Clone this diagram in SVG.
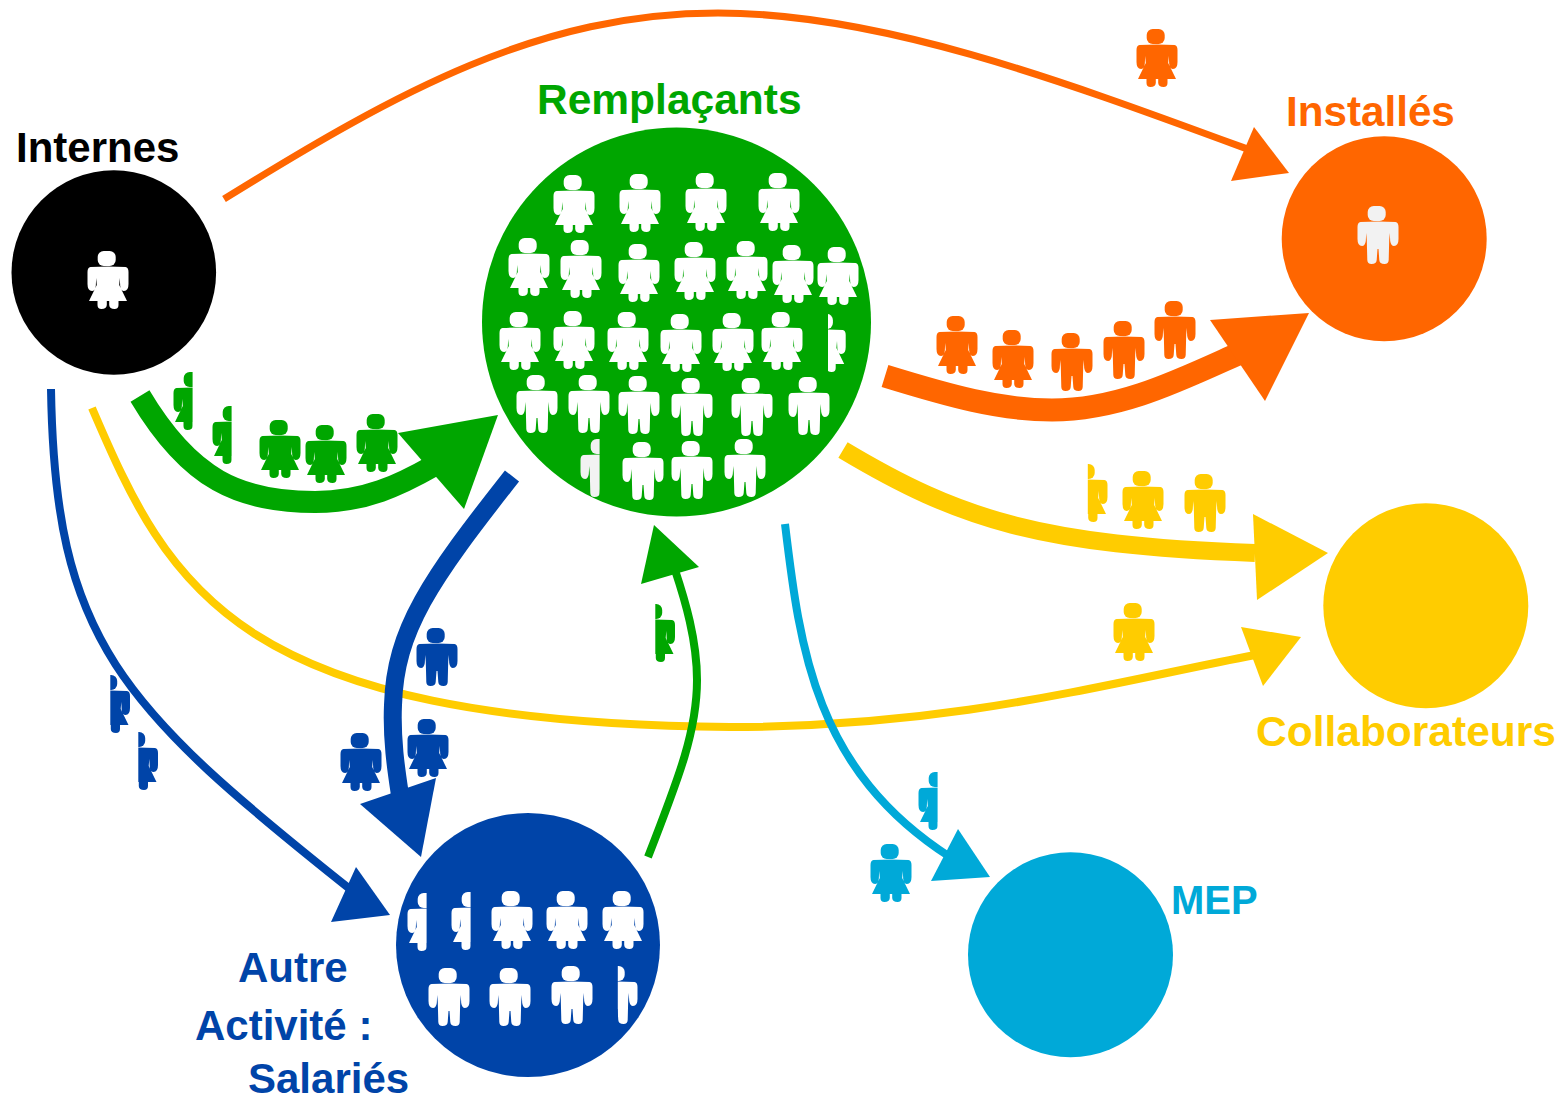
<svg xmlns="http://www.w3.org/2000/svg" width="1565" height="1102" viewBox="0 0 1565 1102">
<style>
text{font-family:"Liberation Sans",Arial,sans-serif;font-weight:700;font-size:42px}
.l{fill:none}
.g{fill:#00a600}.o{fill:#ff6600}.y{fill:#ffcc00}.b{fill:#0044a8}.c{fill:#00a9d8}.k{fill:#000}.w{fill:#fff}.s{fill:#f2f2f2}
</style>
<defs>
<clipPath id="cl"><rect x="-30" y="-2" width="28.6" height="64"/></clipPath>
<clipPath id="cr"><rect x="0.800" y="-2" width="28" height="64"/></clipPath>
<clipPath id="cw"><rect x="828" y="305" width="30" height="75"/></clipPath>
<g id="f"><rect x="-10.300" y="0" width="18" height="15" rx="6" ry="6"/><path d="M-17.500,16Q0,15 17.500,16Q20.500,16.500 20.500,21V33Q20.500,40 16,40Q13,40 12.200,35L11.800,27L11.200,34L19,50H10.500V54Q10.500,58 6.500,58Q1.500,58 1.200,54V50H-1.200V54Q-1.500,58 -6.500,58Q-10.500,58 -10.500,54V50H-19L-11.200,34L-11.800,27L-12.200,35Q-13,40 -16,40Q-20.500,40 -20.500,33V21Q-20.500,16.500 -17.500,16Z"/></g>
<g id="m"><rect x="-10.300" y="0" width="18" height="15" rx="6" ry="6"/><path d="M-17.500,16Q0,15 17.500,16Q20.500,16.500 20.500,21V33Q20.500,40 16,40Q13,40 12.200,35L11.800,27L11.200,34L10.700,54Q10.500,58 6.500,58Q1.500,58 1.300,54L0.500,43H-0.500L-1.300,54Q-1.500,58 -6.500,58Q-10.500,58 -10.700,54L-11.200,34L-11.800,27L-12.200,35Q-13,40 -16,40Q-20.500,40 -20.500,33V21Q-20.500,16.500 -17.500,16Z"/></g>
<g id="fl"><use href="#f" clip-path="url(#cl)"/></g>
<g id="fr"><use href="#f" clip-path="url(#cr)"/></g>
<g id="ml"><use href="#m" clip-path="url(#cl)"/></g>
<g id="mr"><use href="#m" clip-path="url(#cr)"/></g>
</defs>
<rect width="1565" height="1102" fill="#fff"/>
<g id="connectors" class="l">
<path d="M224,199C400,90 540,13 718,13C880,13 1060,80 1250,150" stroke="#ff6600" stroke-width="7"/>
<polygon class="o" points="1254,127 1289,173 1231,181"/>
<path d="M140,396C190,480 240,502 315,502C365,502 400,485 435,465" stroke="#00a600" stroke-width="22"/>
<polygon class="g" points="498,415 464,509 398,433"/>
<path d="M885,376C950,396 1000,410 1052,410C1120,410 1180,380 1238,354" stroke="#ff6600" stroke-width="23"/>
<polygon class="o" points="1309,313 1265,401 1210,320"/>
<path d="M843,450C960,520 1040,545 1255,553" stroke="#ffcc00" stroke-width="18"/>
<polygon class="y" points="1328,553 1257,600 1253,514"/>
<path d="M92,408C170,590 235,722 730,727C950,727 1100,685 1255,655" stroke="#ffcc00" stroke-width="8"/>
<polygon class="y" points="1301,637 1263,686 1241,627"/>
<path d="M51,389C55,640 118,705 355,893" stroke="#0044a8" stroke-width="8"/>
<polygon class="b" points="390,915 331,922 356,867"/>
<path d="M512,476C430,580 395,630 393,705C391,750 400,790 402,810" stroke="#0044a8" stroke-width="18"/>
<polygon class="b" points="436,778 421,857 360,804"/>
<path d="M648,857C680,775 697,730 697,680C697,640 685,600 675,570" stroke="#00a600" stroke-width="8"/>
<polygon class="g" points="654,525 699,567 641,584"/>
<path d="M785,524C800,650 815,770 950,857" stroke="#00a9d8" stroke-width="8"/>
<polygon class="c" points="958,829 990,877 931,881"/>
</g>
<g id="flow-people">
<g class="o"><use href="#f" x="1157" y="29"/><use href="#f" x="957" y="316"/><use href="#f" x="1013" y="330"/><use href="#m" x="1072" y="333"/><use href="#m" x="1124" y="321"/><use href="#m" x="1175" y="301"/></g>
<g class="y"><use href="#fr" x="1087" y="464"/><use href="#f" x="1143" y="471"/><use href="#m" x="1205" y="474"/><use href="#f" x="1134" y="603"/></g>
<g class="g"><use href="#fl" x="194" y="372"/><use href="#fl" x="233" y="406"/><use href="#f" x="280" y="420"/><use href="#f" x="326" y="425"/><use href="#f" x="377" y="414"/><use href="#fr" x="654.500" y="604"/></g>
<g class="b"><use href="#m" x="437" y="628"/><use href="#f" x="361" y="733"/><use href="#f" x="428" y="719"/><use href="#fr" x="109.500" y="675"/><use href="#fr" x="137.500" y="732"/></g>
<g class="c"><use href="#fl" x="939" y="772"/><use href="#f" x="891" y="844"/></g>
</g>
<g id="internes">
<circle class="k" cx="113.800" cy="272.500" r="102.300"/>
<use class="w" href="#f" x="108" y="251"/>
<text class="k" x="16" y="162">Internes</text>
</g>
<g id="remplacants">
<circle class="g" cx="676.500" cy="322" r="194.500"/>
<g class="w">
<use href="#f" x="574" y="175"/><use href="#f" x="640" y="174"/><use href="#f" x="706" y="173"/><use href="#f" x="779" y="173"/>
<use href="#f" x="529" y="238"/><use href="#f" x="581" y="240"/><use href="#f" x="639" y="244"/><use href="#f" x="695" y="242"/><use href="#f" x="747" y="241"/><use href="#f" x="793" y="245"/><use href="#f" x="838" y="247"/>
<use href="#f" x="520" y="312"/><use href="#f" x="574" y="311"/><use href="#f" x="628" y="312"/><use href="#f" x="681" y="314"/><use href="#f" x="733" y="313"/><use href="#f" x="782" y="312"/><g clip-path="url(#cw)"><use href="#f" x="825.200" y="314"/></g>
<use href="#m" x="537" y="375"/><use href="#m" x="589" y="375"/><use href="#m" x="639" y="376"/><use href="#m" x="692" y="378"/><use href="#m" x="752" y="378"/><use href="#m" x="809" y="377"/>
<use class="s" href="#ml" x="601" y="439"/><use href="#m" x="643" y="442"/><use href="#m" x="692" y="441"/><use href="#m" x="745" y="439"/>
</g>
<text class="g" x="537" y="114" style="font-size:42.500px">Remplaçants</text>
</g>
<g id="installes">
<circle class="o" cx="1384.200" cy="238.800" r="102.500"/>
<use class="s" href="#m" x="1378" y="206"/>
<text class="o" x="1286" y="126" style="font-size:42.200px">Installés</text>
</g>
<g id="collaborateurs">
<circle class="y" cx="1425.800" cy="605.800" r="102.500"/>
<text class="y" x="1256" y="746" style="font-size:42.500px">Collaborateurs</text>
</g>
<g id="mep">
<circle class="c" cx="1070.500" cy="954.800" r="102.500"/>
<text class="c" x="1171" y="914" style="font-size:40px">MEP</text>
</g>
<g id="autre-activite">
<circle class="b" cx="528" cy="945" r="132"/>
<g class="w">
<use href="#fl" x="428" y="893"/><use href="#fl" x="472" y="892"/><use href="#f" x="512" y="891"/><use href="#f" x="567" y="891"/><use href="#f" x="623" y="891"/>
<use href="#m" x="449" y="968"/><use href="#m" x="510" y="968"/><use href="#m" x="572" y="966"/><use href="#mr" x="617" y="966"/>
</g>
<text class="b" x="238" y="982">Autre</text>
<text class="b" x="195" y="1040">Activité :</text>
<text class="b" x="248" y="1093">Salariés</text>
</g>
</svg>
